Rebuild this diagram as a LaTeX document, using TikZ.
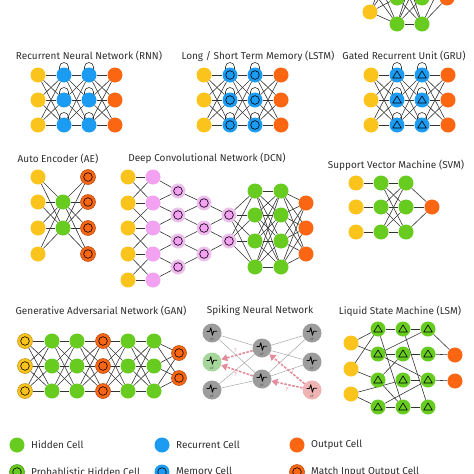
\documentclass[tikz,border=0pt]{standalone}
\usepackage{fontspec}
\setmainfont{Fira Sans}
\usetikzlibrary{arrows.meta,backgrounds}

\definecolor{inyellow}{HTML}{FBC41C}
\definecolor{hidgreen}{HTML}{67CC1F}
\definecolor{recblue}{HTML}{1B9CF2}
\definecolor{outorange}{HTML}{FA6612}
\definecolor{convpink}{HTML}{F3A2F2}
\definecolor{convhalo}{HTML}{EBC3EA}
\definecolor{linkgray}{HTML}{333333}
\definecolor{titlegray}{HTML}{2E2E2E}
\definecolor{spikegray}{HTML}{9C9C9C}
\definecolor{spikegreen}{HTML}{A6D69B}
\definecolor{spikepink}{HTML}{EFB3B3}
\definecolor{arrowpink}{HTML}{E48C9C}

\tikzset{
  cell/.style={circle,minimum size=15pt,inner sep=0pt},
  input/.style={cell,fill=inyellow},
  hidden/.style={cell,fill=hidgreen},
  recurrent/.style={cell,fill=recblue},
  output/.style={cell,fill=outorange},
  ring/.style={path picture={\draw[black,line width=0.6pt] (path picture bounding box.center) circle (4.3pt);}},
  tri/.style={path picture={\draw[black,line width=0.6pt,line join=round] ([yshift=4pt]path picture bounding box.center) -- ++(-4.3pt,-7pt) -- ++(8.6pt,0) -- cycle;}},
  memory/.style={recurrent,ring},
  gated/.style={recurrent,tri},
  liquid/.style={hidden,tri},
  probhidden/.style={hidden,ring,draw=hidgreen!70!black,line width=0.5pt},
  backfed/.style={input,ring,draw=inyellow!75!black,line width=0.5pt},
  matchcell/.style={output,ring,draw=outorange!70!black,line width=0.5pt},
  kernel/.style={cell,fill=convpink},
  pool/.style={cell,fill=convpink,draw=convhalo,line width=2pt,minimum size=13pt,ring},
  spiking/.style={circle,minimum size=19pt,inner sep=0pt,fill=spikegray,
    path picture={\draw[black,line width=0.8pt,line join=round] ([shift={(-5.5pt,1.5pt)}]path picture bounding box.center)
      -- ++(3pt,0) -- ++(1.3pt,3.8pt) -- ++(1.6pt,-7.5pt) -- ++(1.2pt,4pt) -- ++(3.4pt,0);}},
  liftext/.style={font=\fontsize{3.2}{3.2}\selectfont,text=black!70,inner sep=0pt},
  link/.style={draw=linkgray,line width=0.6pt},
  faint/.style={draw=black!35,line width=0.5pt},
  spikearrow/.style={draw=arrowpink,line width=1.6pt,dash pattern=on 2.6pt off 1.4pt,->},
  selfloop/.style={draw=linkgray,line width=0.6pt},
  title/.style={font=\fontsize{10}{12}\selectfont,text=titlegray,inner sep=0pt},
  legend/.style={font=\fontsize{10}{12}\selectfont,text=titlegray,inner sep=0pt,anchor=west},
  qmark/.style={font=\fontsize{5.5}{5.5}\selectfont,text=arrowpink,inner sep=0pt}
}

\begin{document}
\begin{tikzpicture}[x=1pt,y=-1pt,>={Triangle[length=6pt,width=7pt]}]
\useasboundingbox (0,0) rectangle (474,474);
\clip (0,0) rectangle (474,474);

% deep feed forward, only its bottom shows
\foreach \r [count=\i] in {-38,-13,12} \node[input] (dff-i\i) at (370,\r) {};
\foreach \r [count=\i] in {-54,-28,-2,24} {
  \node[hidden] (dff-a\i) at (397,\r) {};
  \node[hidden] (dff-b\i) at (422,\r) {};
}
\foreach \r [count=\i] in {-28,-2} \node[output] (dff-o\i) at (447,\r) {};
\begin{pgfonlayer}{background}
\foreach \i in {1,2,3} \foreach \j in {1,...,4} \draw[link] (dff-i\i) -- (dff-a\j);
\foreach \i in {1,...,4} \foreach \j in {1,...,4} \draw[link] (dff-a\i) -- (dff-b\j);
\foreach \i in {1,...,4} \foreach \j in {1,2} \draw[link] (dff-b\i) -- (dff-o\j);
\end{pgfonlayer}

% RNN, LSTM, GRU
\node[title] (rnn-title) at (89,56) {Recurrent Neural Network (RNN)};
\node[title] (lstm-title) at (258,56) {Long / Short Term Memory (LSTM)};
\node[title] (gru-title) at (404,56) {Gated Recurrent Unit (GRU)};
\foreach \nm/\x/\kind in {rnn/38/recurrent,lstm/204/memory,gru/371/gated} {
  \foreach \r [count=\i] in {75,100,125} {
    \node[input] (\nm-i\i) at (\x,\r) {};
    \node[\kind] (\nm-a\i) at (\x+26,\r) {};
    \node[\kind] (\nm-b\i) at (\x+51,\r) {};
    \node[output] (\nm-o\i) at (\x+77,\r) {};
  }
}
\begin{pgfonlayer}{background}
\foreach \nm in {rnn,lstm,gru} {
  \foreach \i in {1,2,3} \foreach \j in {1,2,3} {
    \draw[link] (\nm-i\i) -- (\nm-a\j);
    \draw[link] (\nm-a\i) -- (\nm-b\j);
    \draw[link] (\nm-b\i) -- (\nm-o\j);
  }
}
\end{pgfonlayer}
\foreach \nm in {rnn,lstm,gru} \foreach \i in {1,2,3} \foreach \c in {a,b}
  \draw[selfloop] ([shift={(-4.5pt,5.6pt)}]\nm-\c\i.center) -- ++(0,2.4pt) arc[start angle=180,end angle=0,radius=4.5pt] -- ++(0,-2.4pt);

% auto encoder
\node[title] (ae-title) at (58,159) {Auto Encoder (AE)};
\foreach \r [count=\i] in {177,202,228,254} {
  \node[input] (ae-i\i) at (38,\r) {};
  \node[matchcell] (ae-o\i) at (88,\r) {};
}
\foreach \r [count=\i] in {202,228} \node[hidden] (ae-h\i) at (63,\r) {};
\begin{pgfonlayer}{background}
\foreach \i in {1,...,4} \foreach \j in {1,2} {
  \draw[link] (ae-i\i) -- (ae-h\j);
  \draw[link] (ae-h\j) -- (ae-o\i);
}
\end{pgfonlayer}

% deep convolutional network
\node[title] (dcn-title) at (207,158) {Deep Convolutional Network (DCN)};
\foreach \r [count=\i] in {177,203,228,254,280} {
  \node[input] (dcn-i\i) at (128,\r) {};
  \node[kernel] (dcn-k\i) at (153,\r) {};
}
\foreach \r [count=\i] in {191,215,241,267} {
  \node[pool] (dcn-p\i) at (178,\r) {};
  \node[hidden] (dcn-g\i) at (255,\r) {};
  \node[hidden] (dcn-h\i) at (281,\r) {};
}
\foreach \r [count=\i] in {203,228,254} {
  \node[pool] (dcn-q\i) at (204,\r) {};
  \node[output] (dcn-o\i) at (306,\r) {};
}
\foreach \r [count=\i] in {215,241} \node[pool] (dcn-s\i) at (229,\r) {};
\begin{pgfonlayer}{background}
\foreach \a/\b in {1/1,1/2,2/1,2/2,2/3,3/2,3/3,3/4,4/3,4/4,4/5,5/4,5/5}
  \draw[link] (dcn-i\a) -- (dcn-k\b);
\foreach \a/\b in {1/1,2/1,2/2,3/2,3/3,4/3,4/4,5/4}
  \draw[link] (dcn-k\a) -- (dcn-p\b);
\foreach \a/\b in {1/1,2/1,2/2,3/2,3/3,4/3}
  \draw[link] (dcn-p\a) -- (dcn-q\b);
\foreach \a/\b in {1/1,2/1,2/2,3/2}
  \draw[link] (dcn-q\a) -- (dcn-s\b);
\foreach \i in {1,2} \foreach \j in {1,...,4} \draw[link] (dcn-s\i) -- (dcn-g\j);
\foreach \i in {1,...,4} \foreach \j in {1,...,4} \draw[link] (dcn-g\i) -- (dcn-h\j);
\foreach \i in {1,...,4} \foreach \j in {1,2,3} \draw[link] (dcn-h\i) -- (dcn-o\j);
\end{pgfonlayer}

% support vector machine
\node[title] (svm-title) at (396,165) {Support Vector Machine (SVM)};
\foreach \r [count=\i] in {183,207,232} {
  \node[input] (svm-i\i) at (356,\r) {};
  \node[hidden] (svm-a\i) at (381,\r) {};
  \node[hidden] (svm-b\i) at (406,\r) {};
}
\node[output] (svm-o) at (432,207) {};
\begin{pgfonlayer}{background}
\foreach \i in {1,2,3} {
  \draw[link] (svm-i\i) -- (svm-a\i);
  \draw[link] (svm-b\i) -- (svm-o);
  \foreach \j in {1,2,3} \draw[link] (svm-a\i) -- (svm-b\j);
}
\end{pgfonlayer}

% generative adversarial network
\node[title] (gan-title) at (101,311) {Generative Adversarial Network (GAN)};
\foreach \c/\x/\kind in {1/25/backfed,2/52/hidden,3/77/hidden,4/103/matchcell,5/128/hidden,6/154/hidden}
  \foreach \r [count=\i] in {341,366,391} \node[\kind] (gan-\c-\i) at (\x,\r) {};
\foreach \r [count=\i] in {353,378} \node[matchcell] (gan-7-\i) at (179,\r) {};
\begin{pgfonlayer}{background}
\foreach \c [evaluate=\c as \n using int(\c+1)] in {1,...,5}
  \foreach \i in {1,2,3} \foreach \j in {1,2,3} \draw[link] (gan-\c-\i) -- (gan-\n-\j);
\foreach \i in {1,2,3} \foreach \j in {1,2} \draw[link] (gan-6-\i) -- (gan-7-\j);
\end{pgfonlayer}

% spiking neural network
\node[title] (snn-title) at (260,311) {Spiking Neural Network};
\node[spiking] (snn-l1) at (212,333) {};
\node[spiking,fill=spikegreen] (snn-l2) at (212,362) {};
\node[spiking] (snn-l3) at (212,390) {};
\node[spiking] (snn-m1) at (262,348) {};
\node[spiking] (snn-m2) at (262,379) {};
\node[spiking] (snn-r1) at (312,333) {};
\node[spiking] (snn-r2) at (312,362) {};
\node[spiking,fill=spikepink] (snn-r3) at (312,390) {};
\foreach \n in {l1,l2,l3,m1,m2,r1,r2,r3}
  \node[liftext] (snn-\n-lif) at ([yshift=-6.5pt]snn-\n.center) {LIF};
\begin{pgfonlayer}{background}
\foreach \a in {l1,l3,r1,r2} \foreach \b in {m1,m2} \draw[faint] (snn-\a) -- (snn-\b);
\end{pgfonlayer}
\draw[spikearrow] (snn-m1) -- (snn-l2) node[qmark,pos=0.55,above=2pt] (snn-q1) {?};
\draw[spikearrow] (snn-m2) -- (snn-l2) node[qmark,pos=0.55,below=2pt] (snn-q2) {?};
\draw[spikearrow] (snn-r3) -- (snn-m1) node[qmark,pos=0.45,right=2pt] (snn-q3) {?};
\draw[spikearrow] (snn-r3) -- (snn-m2) node[qmark,pos=0.5,below=2pt] (snn-q4) {?};

% liquid state machine
\node[title] (lsm-title) at (400,311) {Liquid State Machine (LSM)};
\foreach \r [count=\i] in {343,369,394} \node[input] (lsm-y\i) at (351,\r) {};
\foreach \r [count=\i] in {329,354,380,407} {
  \node[liquid] (lsm-a\i) at (378,\r) {};
  \node[liquid] (lsm-b\i) at (403,\r) {};
  \node[liquid] (lsm-c\i) at (428,\r) {};
}
\foreach \r [count=\i] in {355,381} \node[output] (lsm-o\i) at (455,\r) {};
\begin{pgfonlayer}{background}
\foreach \a/\b in {y1/a1,y1/a2,y2/a1,y2/a3,y3/a4,y3/b3,
  a1/b1,b1/c1,a2/b2,b2/c2,c2/o1,c3/o2,c1/o1,a2/c1,a2/c3,a3/b2,a3/b4,
  a4/b4,b4/c4,b1/c4,b3/c3,a4/c3,a1/b4}
  \draw[link] (lsm-\a) -- (lsm-\b);
\end{pgfonlayer}

% legend
\node[hidden] (key-hid) at (17,445) {};
\node[legend] (key-hid-text) at (31,445) {Hidden Cell};
\node[recurrent] (key-rec) at (162,445) {};
\node[legend] (key-rec-text) at (176,445) {Recurrent Cell};
\node[output] (key-out) at (297,445) {};
\node[legend] (key-out-text) at (311,445) {Output Cell};
\node[probhidden] (key-prob) at (17,472) {};
\node[legend] (key-prob-text) at (31,472) {Probablistic Hidden Cell};
\node[memory] (key-mem) at (162,472) {};
\node[legend] (key-mem-text) at (176,472) {Memory Cell};
\node[matchcell] (key-match) at (297,472) {};
\node[legend] (key-match-text) at (311,472) {Match Input Output Cell};
\end{tikzpicture}
\end{document}
